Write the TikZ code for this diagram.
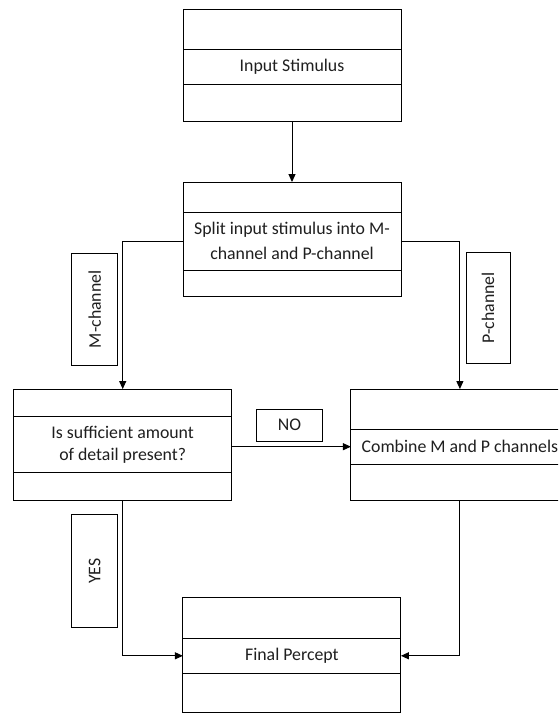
\documentclass[tikz,border=0pt]{standalone}
\usepackage{fontspec}
\setmainfont{Carlito}
\usetikzlibrary{arrows.meta,calc}
\begin{document}
\begin{tikzpicture}[x=1pt,y=-1pt,
  line width=1pt,
  every node/.style={inner sep=0pt,outer sep=0pt},
  outerbox/.style={draw,minimum width=218pt},
  midrow/.style={draw,minimum width=218pt,align=center,font=\fontsize{17.8}{24}\selectfont,text=black!88},
  lbl/.style={draw,font=\fontsize{17.8}{20}\selectfont,text=black!88},
  arr/.style={-{Triangle[length=8pt,width=7pt]}}
]
\useasboundingbox (0,0) rectangle (558,715);
\clip (0,0) rectangle (558,715);
\fill[white] (0,0) rectangle (558,715);

% Box 1
\node[outerbox,minimum height=111.5pt] (b1) at (292,65.3) {};
\node[midrow,minimum height=35.4pt] (b1m) at (292,67) {Input Stimulus};
% Box 2
\node[outerbox,minimum height=114.7pt] (b2) at (292,239.4) {};
\node[midrow,minimum height=57.7pt,font=\fontsize{17.8}{25}\selectfont] (b2m) at (292,241.2) {Split input stimulus into M-\\channel and P-channel};
% Box 3
\node[outerbox,minimum height=111.7pt] (b3) at (122.7,444.9) {};
\node[midrow,minimum height=56pt,font=\fontsize{17.8}{22}\selectfont] (b3m) at (122.7,444.7) {Is sufficient amount\\of detail present?};
% Box 4
\node[outerbox,minimum height=111.7pt] (b4) at (459.9,444.9) {};
\node[midrow,minimum height=35.3pt] (b4m) at (459.9,446.7) {Combine M and P channels};
% Box 5
\node[outerbox,minimum height=114.6pt] (b5) at (291.9,655) {};
\node[midrow,minimum height=35pt] (b5m) at (291.9,655.8) {Final Percept};

% Labels
\node[lbl,minimum width=46pt,minimum height=112pt] (lm) at (94.7,309.3) {\rotatebox{90}{M-channel}};
\node[lbl,minimum width=44pt,minimum height=111pt] (lp) at (488,307.8) {\rotatebox{90}{P-channel}};
\node[lbl,minimum width=65.6pt,minimum height=31.7pt] (lno) at (289.5,425.2) {NO};
\node[lbl,minimum width=46pt,minimum height=112.7pt] (lyes) at (94.7,571.3) {\rotatebox{90}{YES}};

% Connectors
\draw[arr] (b1.south) -- (b2.north);
\draw[arr] (b2m.west) -| (b3.north);
\draw[arr] (b2m.east) -| (b4.north);
\draw[arr] (b3m.east |- b4m.west) -- (b4m.west);
\draw[arr] (b3.south) |- (b5m.west);
\draw[arr] (b4.south) |- (b5m.east);
\end{tikzpicture}
\end{document}
